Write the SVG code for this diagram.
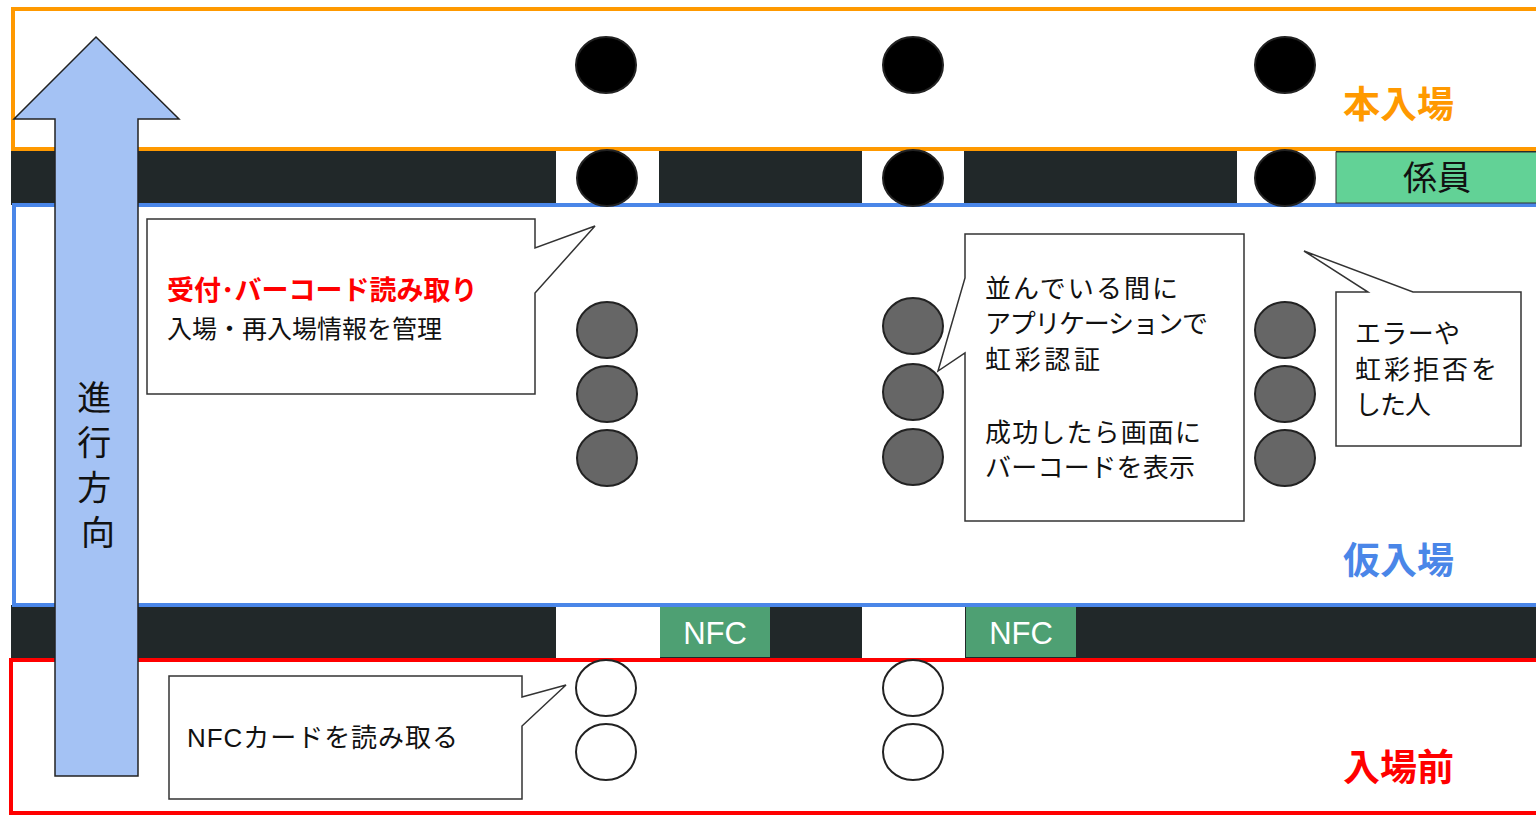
<svg xmlns="http://www.w3.org/2000/svg" width="1536" height="816" viewBox="0 0 1536 816">
<defs>
<style>
.jp{font-family:"Noto Sans CJK JP","Noto Sans",sans-serif;}
.lat{font-family:"Liberation Sans","Noto Sans CJK JP",sans-serif;}
.band{fill:#212829;}
.gap{fill:#ffffff;}
.blk{fill:#000000;stroke:#222222;stroke-width:2;}
.gry{fill:#666666;stroke:#222222;stroke-width:2;}
.wht{fill:#ffffff;stroke:#222222;stroke-width:2;}
.call{fill:#ffffff;stroke:#333333;stroke-width:1.5;}
.zone{fill:none;stroke-width:4;}
.txt{font-size:26px;fill:#111111;}
.lbl{font-size:37px;font-weight:bold;}
</style>
</defs>
<rect width="1536" height="816" fill="#ffffff"/>

<g id="bands">
<rect class="band" x="11" y="151" width="1530" height="54"/>
<rect class="gap" x="556" y="151" width="103" height="54"/>
<rect class="gap" x="862" y="151" width="102" height="54"/>
<rect class="gap" x="1237" y="151" width="99" height="54"/>
<rect class="band" x="11" y="605" width="1530" height="54"/>
<rect class="gap" x="556" y="605" width="104" height="54"/>
<rect class="gap" x="862" y="605" width="103" height="54"/>
</g>

<g id="zone-main">
<rect class="zone" x="13" y="9" width="1540" height="140" stroke="#ff9900"/>
<text class="jp lbl" x="1343" y="118" fill="#ff9900">本入場</text>
</g>
<g id="zone-temp">
<rect class="zone" x="14" y="205" width="1540" height="400" stroke="#4a86e8"/>
<text class="jp lbl" x="1343" y="574" fill="#4a86e8">仮入場</text>
</g>
<g id="zone-before">
<rect class="zone" x="11" y="660" width="1540" height="153" stroke="#ff0000"/>
<text class="jp lbl" x="1343" y="781" fill="#ff0000">入場前</text>
</g>

<g id="staff">
<rect x="1336" y="152" width="205" height="51" fill="#62d296" stroke="#333333" stroke-width="1"/>
<text class="jp" x="1437" y="190" font-size="34" fill="#111111" text-anchor="middle">係員</text>
</g>
<g id="nfc1">
<rect x="660" y="607" width="110" height="50" fill="#4ea073"/>
<text class="lat" x="715" y="644" font-size="31" fill="#ffffff" text-anchor="middle">NFC</text>
</g>
<g id="nfc2">
<rect x="966" y="607" width="110" height="50" fill="#4ea073"/>
<text class="lat" x="1021" y="644" font-size="31" fill="#ffffff" text-anchor="middle">NFC</text>
</g>

<g id="people-black">
<ellipse class="blk" cx="606" cy="65" rx="30" ry="28"/>
<ellipse class="blk" cx="913" cy="65" rx="30" ry="28"/>
<ellipse class="blk" cx="1285" cy="65" rx="30" ry="28"/>
<ellipse class="blk" cx="607" cy="178" rx="30" ry="28"/>
<ellipse class="blk" cx="913" cy="178" rx="30" ry="28"/>
<ellipse class="blk" cx="1285" cy="178" rx="30" ry="28"/>
</g>
<g id="people-gray">
<ellipse class="gry" cx="607" cy="330" rx="30" ry="28"/>
<ellipse class="gry" cx="607" cy="394" rx="30" ry="28"/>
<ellipse class="gry" cx="607" cy="458" rx="30" ry="28"/>
<ellipse class="gry" cx="913" cy="326" rx="30" ry="28"/>
<ellipse class="gry" cx="913" cy="392" rx="30" ry="28"/>
<ellipse class="gry" cx="913" cy="457" rx="30" ry="28"/>
<ellipse class="gry" cx="1285" cy="330" rx="30" ry="28"/>
<ellipse class="gry" cx="1285" cy="394" rx="30" ry="28"/>
<ellipse class="gry" cx="1285" cy="458" rx="30" ry="28"/>
</g>
<g id="people-white">
<ellipse class="wht" cx="606" cy="688" rx="30" ry="28"/>
<ellipse class="wht" cx="606" cy="752" rx="30" ry="28"/>
<ellipse class="wht" cx="913" cy="688" rx="30" ry="28"/>
<ellipse class="wht" cx="913" cy="752" rx="30" ry="28"/>
</g>

<g id="arrow">
<polygon points="96,37 179,119 138,119 138,776 55,776 55,119 14,119" fill="#a4c2f4" stroke="#222222" stroke-width="1.5" stroke-linejoin="miter"/>
<text class="jp" font-size="34" fill="#111111" text-anchor="middle">
<tspan x="98" y="410">進</tspan>
<tspan x="98" y="455">行</tspan>
<tspan x="98" y="500">方</tspan>
<tspan x="98" y="545">向</tspan>
</text>
</g>

<g id="callout-reception">
<path class="call" d="M147,219 H535 V248 L595,226 L535,293 V394 H147 Z"/>
<text class="jp" x="167" y="300" font-size="27" font-weight="bold" fill="#ff0000">受付･バーコード読み取り</text>
<text class="jp" x="167" y="338" font-size="25" fill="#111111">入場・再入場情報を管理</text>
</g>

<g id="callout-iris">
<path class="call" d="M965,234 H1244 V521 H965 V353 L938,371 L965,278 Z"/>
<text class="jp txt" x="985" y="298" textLength="193" lengthAdjust="spacing">並んでいる間に</text>
<text class="jp txt" x="985" y="333" textLength="223" lengthAdjust="spacing">アプリケーションで</text>
<text class="jp txt" x="985" y="369" textLength="115" lengthAdjust="spacing">虹彩認証</text>
<text class="jp txt" x="985" y="442" textLength="216" lengthAdjust="spacing">成功したら画面に</text>
<text class="jp txt" x="985" y="477" textLength="210" lengthAdjust="spacing">バーコードを表示</text>
</g>

<g id="callout-error">
<path class="call" d="M1336,292 H1368 L1304,251 L1413,292 H1521 V446 H1336 Z"/>
<text class="jp txt" x="1355" y="343" font-size="27" textLength="105" lengthAdjust="spacing">エラーや</text>
<text class="jp txt" x="1355" y="379" font-size="27" textLength="142" lengthAdjust="spacing">虹彩拒否を</text>
<text class="jp txt" x="1355" y="414" font-size="27" textLength="76" lengthAdjust="spacing">した人</text>
</g>

<g id="callout-nfc">
<path class="call" d="M169,676 H522 V697 L566,685 L522,726 V799 H169 Z"/>
<text class="lat txt" x="187" y="747" textLength="271" lengthAdjust="spacing">NFCカードを読み取る</text>
</g>

<g id="connectors"></g>
</svg>
